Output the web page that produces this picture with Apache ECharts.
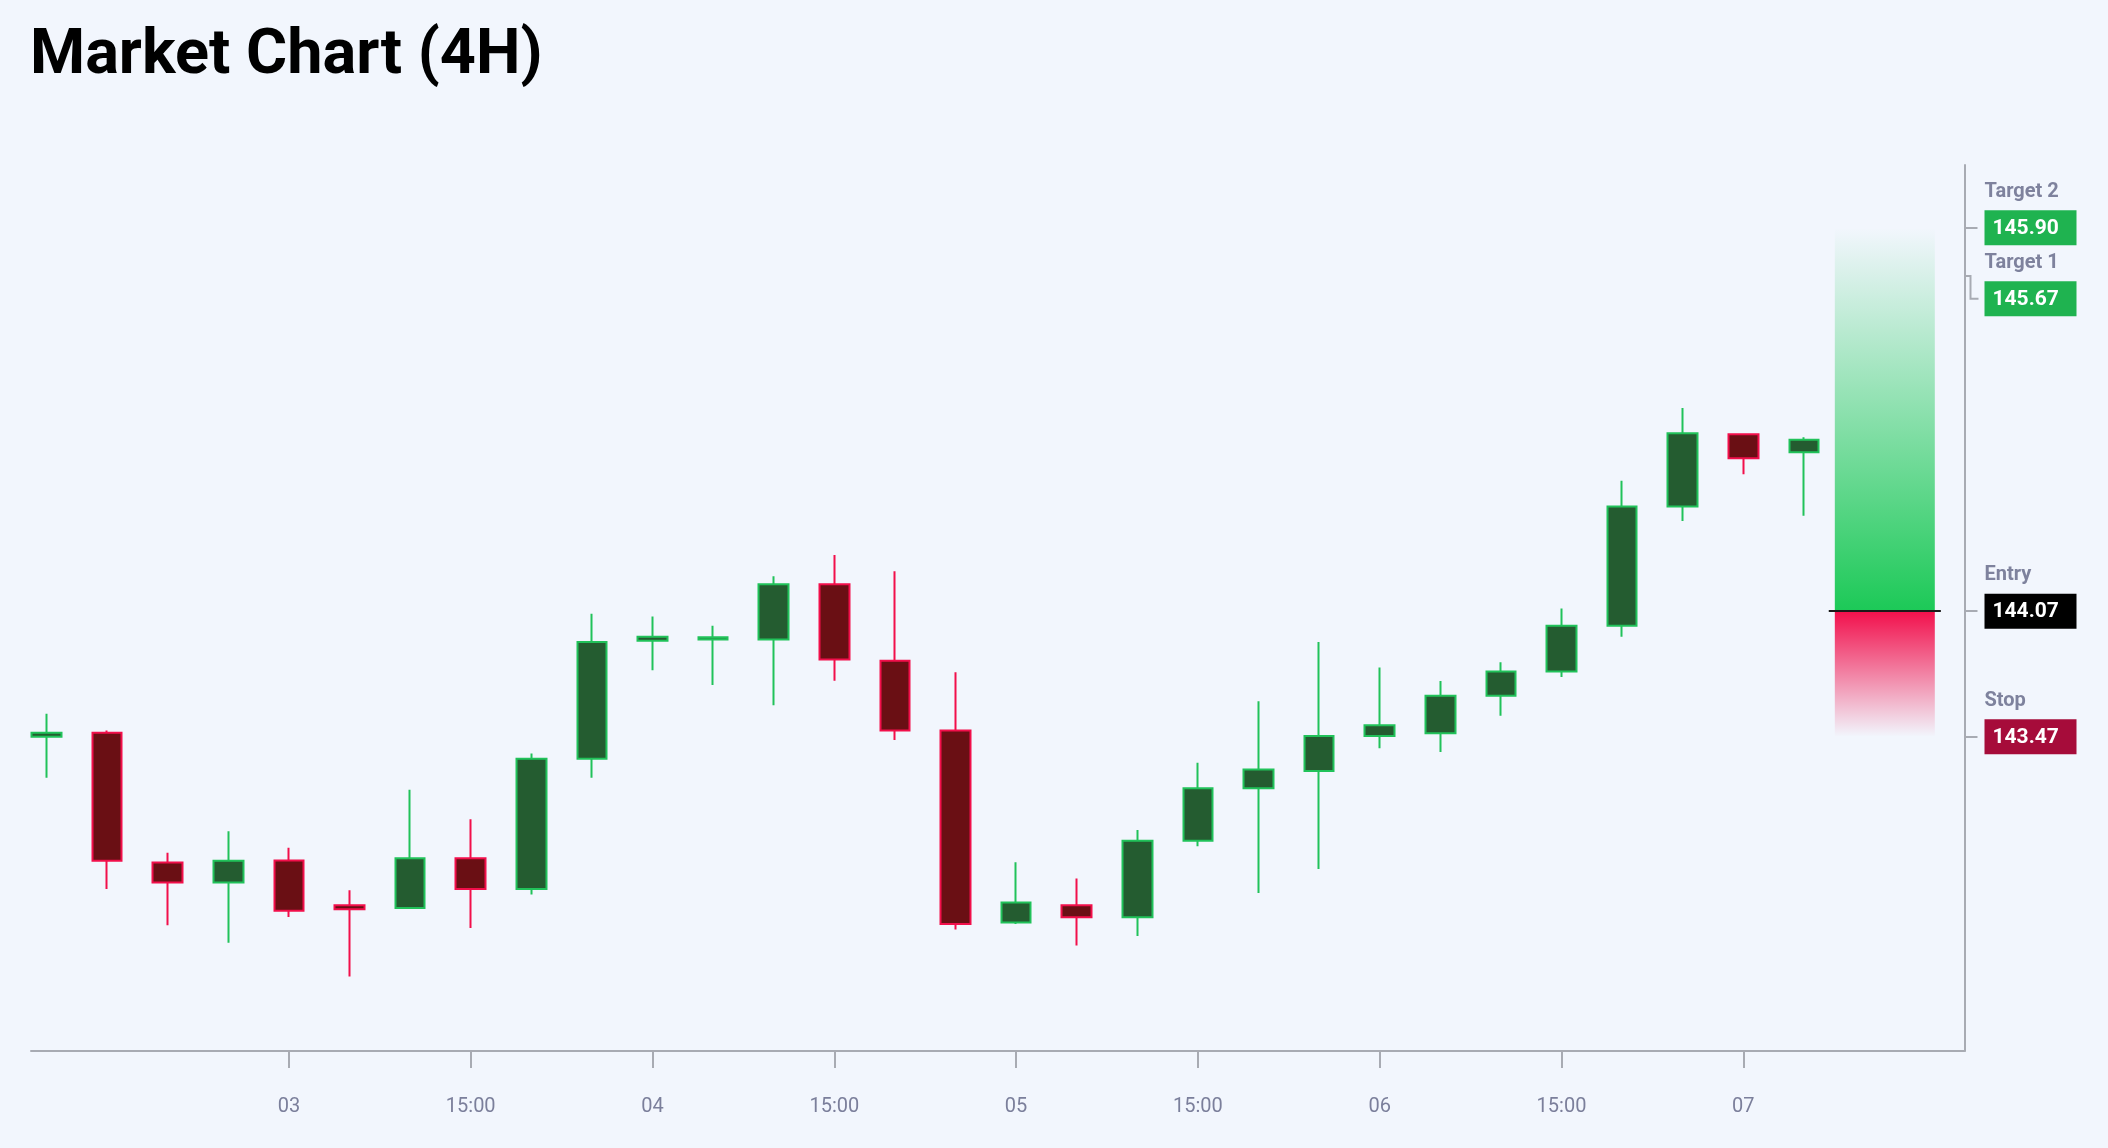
<!DOCTYPE html>
<html>
<head>
<meta charset="utf-8">
<title>Market Chart (4H)</title>
<script src="https://cdn.jsdelivr.net/npm/echarts@6/dist/echarts.min.js"></script>
<style>
  html, body { margin: 0; padding: 0; background: #f2f6fd; }
  #chart { width: 2108px; height: 1148px; }
</style>
</head>
<body>
<div id="chart"></div>
<script>
// --- Data: 30 four-hour bars ---
const open  = [143.47, 143.49, 142.87, 142.775, 142.88, 142.666, 142.653, 142.89, 142.743, 143.365,
               143.929, 143.935, 143.935, 144.198, 143.833, 143.50, 142.583, 142.666, 142.608, 142.974,
               143.224, 143.307, 143.474, 143.487, 143.666, 143.782, 144.00, 144.57, 144.914, 144.828];
const close = [143.49, 142.878, 142.775, 142.878, 142.64, 142.647, 142.89, 142.743, 143.365, 143.923,
               143.948, 143.945, 144.198, 143.839, 143.50, 142.576, 142.679, 142.608, 142.974, 143.224,
               143.314, 143.474, 143.525, 143.666, 143.782, 144.00, 144.57, 144.919, 144.80, 144.888];
const low   = [143.275, 142.743, 142.57, 142.487, 142.61, 142.326, 142.65, 142.557, 142.717, 143.275,
               143.788, 143.717, 143.621, 143.738, 143.455, 142.55, 142.576, 142.474, 142.519, 142.948,
               142.724, 142.839, 143.416, 143.397, 143.57, 143.756, 143.948, 144.50, 144.723, 144.526];
const high  = [143.58, 143.50, 142.916, 143.019, 142.94, 142.737, 143.217, 143.076, 143.39, 144.057,
               144.044, 144.00, 144.237, 144.338, 144.26, 143.778, 142.871, 142.794, 143.025, 143.346,
               143.64, 143.923, 143.801, 143.737, 143.826, 144.083, 144.692, 145.04, 144.919, 144.90];

// time axis labels (bar index -> text)
const tickIndex = [4, 7, 10, 13, 16, 19, 22, 25, 28];
const tickText  = ['03', '15:00', '04', '15:00', '05', '15:00', '06', '15:00', '07'];

// trade levels on the price scale
const levelNames  = ['Target 2', 'Target 1', 'Entry', 'Stop'];
const levelPrices = [145.90, 145.67, 144.07, 143.47];
const levelColors = ['#1fb350', '#1fb350', '#000000', '#a60c3a'];
const entryPrice = levelPrices[2], targetPrice = levelPrices[0], stopPrice = levelPrices[3];

// --- Chart ---
const FONT = 'Roboto, sans-serif';
const AXIS_GREY = '#a8abb3';
const LABEL_GREY = '#7b7f9b';
const X_MIN = -0.256, X_MAX = 31.65;
const BOX_H = 35, BOX_W = 92, LABEL_STEP = 71;   // label block: title + price box

const rows = open.map((o, i) => [i, o, close[i], low[i], high[i]]);

const chart = echarts.init(document.getElementById('chart'), null, { renderer: 'canvas' });

chart.setOption({
    backgroundColor: '#f2f6fd',
    animation: false,
    title: {
        text: 'Market Chart (4H)', left: 30, top: 26, padding: 0,
        textStyle: { fontFamily: FONT, fontWeight: 'bold', fontSize: 63, color: '#000' }
    },
    grid: { left: 31, right: 143.5, top: 165, bottom: 97 },
    xAxis: {
        type: 'value', min: X_MIN, max: X_MAX,
        axisLine: { show: true, onZero: false, lineStyle: { color: AXIS_GREY, width: 2 } },
        axisTick: { show: true, customValues: tickIndex, length: 17, lineStyle: { color: AXIS_GREY, width: 2 } },
        axisLabel: {
            customValues: tickIndex, margin: 46,
            color: LABEL_GREY, fontFamily: FONT, fontSize: 20,
            formatter: v => tickText[tickIndex.indexOf(Math.round(v))] || ''
        },
        splitLine: { show: false }
    },
    yAxis: {
        type: 'value', position: 'right', min: 141.97, max: 146.2,
        axisLine: { show: true, onZero: false, lineStyle: { color: AXIS_GREY, width: 2 } },
        axisTick: { show: true, customValues: [targetPrice, entryPrice, stopPrice], length: 13, lineStyle: { color: AXIS_GREY, width: 2 } },
        axisLabel: { show: false },
        splitLine: { show: false }
    },
    series: [{
        type: 'candlestick',
        data: rows,
        encode: { x: 0, y: [1, 2, 3, 4] },
        barWidth: 30,
        silent: true,
        itemStyle: {
            color: '#245c30', color0: '#6a0f14',
            borderColor: '#21c25a', borderColor0: '#f20f4b',
            borderWidth: 2
        },
        markArea: {
            silent: true,
            data: [
                [{ coord: [29.51, entryPrice], itemStyle: { color: new echarts.graphic.LinearGradient(0, 0, 0, 1, [
                    { offset: 0, color: 'rgba(30, 201, 88, 0.0)' },
                    { offset: 1, color: 'rgba(28, 201, 87, 1)' }
                ]), opacity: 1 } }, { coord: [31.16, targetPrice] }],
                [{ coord: [29.51, entryPrice], itemStyle: { color: new echarts.graphic.LinearGradient(0, 0, 0, 1, [
                    { offset: 0, color: 'rgba(242, 16, 76, 1)' },
                    { offset: 1, color: 'rgba(242, 16, 76, 0.0)' }
                ]), opacity: 1 } }, { coord: [31.16, stopPrice] }]
            ]
        },
        markLine: {
            silent: true,
            symbol: ['none', 'none'],
            label: { show: false },
            lineStyle: { color: '#1a1a1a', width: 2, type: 'solid' },
            data: [[{ coord: [29.41, entryPrice] }, { coord: [31.26, entryPrice] }]]
        }
    }]
});

// --- Price-scale level labels (title + coloured box), pushed apart when they collide ---
const elements = [];
let prevCenter = -Infinity;
levelPrices.forEach((price, i) => {
    const [ax, y] = chart.convertToPixel({ gridIndex: 0 }, [X_MAX, price]);
    const center = Math.max(y, prevCenter + LABEL_STEP);
    prevCenter = center;
    const bx = ax + 20;

    if (center - y > 0.5) {
        // bracket tick from the real price to the shifted label
        elements.push({
            type: 'polyline', silent: true,
            shape: { points: [[ax, y], [ax + 6, y], [ax + 6, center], [ax + 14, center]] },
            style: { stroke: AXIS_GREY, lineWidth: 2, fill: null }
        });
    }
    elements.push({
        type: 'text', silent: true, x: bx, y: center - 36,
        style: {
            text: levelNames[i], fill: '#7e829d', font: `bold 20px ${FONT}`,
            align: 'left', verticalAlign: 'middle'
        }
    });
    elements.push({
        type: 'rect', silent: true,
        shape: { x: bx, y: center - BOX_H / 2, width: BOX_W, height: BOX_H },
        style: { fill: levelColors[i] }
    });
    elements.push({
        type: 'text', silent: true, x: bx + 8, y: center + 1,
        style: {
            text: price.toFixed(2), fill: '#ffffff', font: `bold 21px ${FONT}`,
            align: 'left', verticalAlign: 'middle'
        }
    });
});
chart.setOption({ graphic: elements });

window.addEventListener('resize', () => chart.resize());
</script>
</body>
</html>
